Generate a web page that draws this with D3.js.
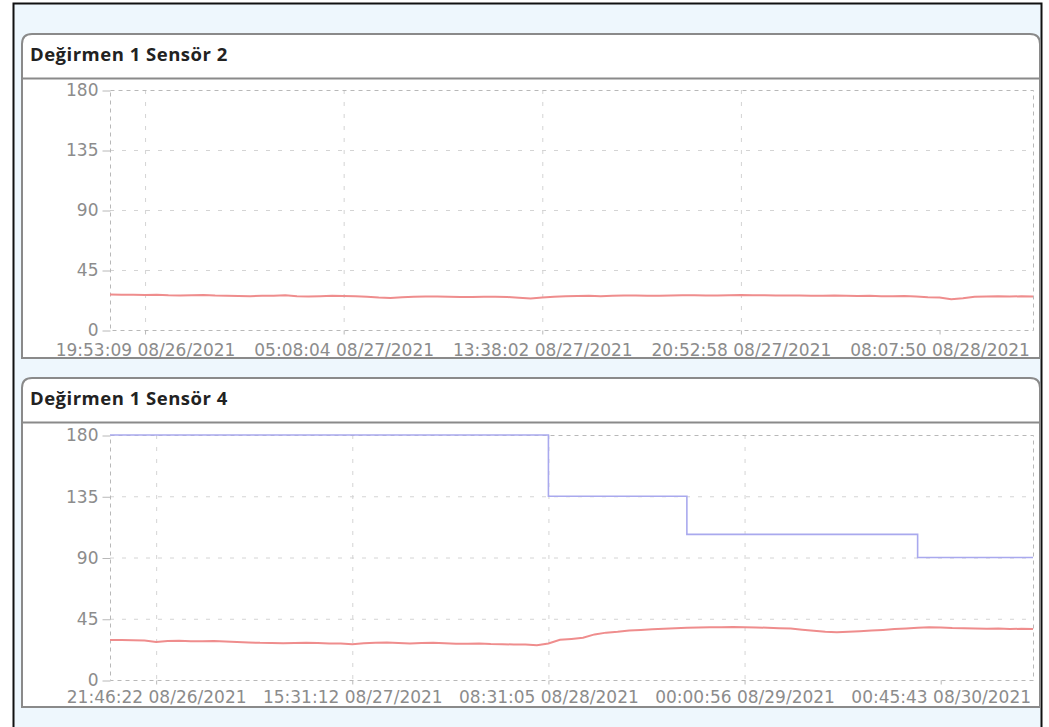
<!DOCTYPE html>
<html>
<head>
<meta charset="utf-8">
<script src="https://cdn.jsdelivr.net/npm/d3@7/dist/d3.min.js"></script>
<style>
    body { margin: 0; background: #fff; }
    svg text { font-family: "DejaVu Sans", sans-serif; }
</style>
</head>
<body>
<div id="chart"></div>
<script>
// y axis ticks (same for both sensors)
var yTicks = [0, 45, 90, 135, 180];

// Sensor 2
var sensor2Title = "Değirmen 1 Sensör 2";
var sensor2Labels = ["19:53:09 08/26/2021", "05:08:04 08/27/2021", "13:38:02 08/27/2021", "20:52:58 08/27/2021", "08:07:50 08/28/2021"];
var sensor2LabelIdx = [3, 20, 37, 54, 71];
var sensor2Red = [
    26.6, 26.5, 26.4, 26.3, 26.5, 26.1, 25.9, 26.0, 26.2, 25.8,
    25.6, 25.5, 25.4, 25.6, 25.7, 26.0, 25.4, 25.2, 25.4, 25.6,
    25.5, 25.3, 25.0, 24.3, 24.0, 24.6, 24.9, 25.1, 25.2, 25.0,
    24.8, 24.7, 24.9, 25.0, 24.7, 24.1, 23.6, 24.3, 25.0, 25.3,
    25.5, 25.6, 25.4, 25.7, 25.9, 25.8, 25.6, 25.7, 25.9, 26.0,
    26.1, 25.9, 25.8, 26.0, 26.2, 26.1, 26.0, 25.9, 25.8, 25.9,
    25.7, 25.6, 25.8, 25.7, 25.5, 25.6, 25.4, 25.3, 25.5, 25.2,
    24.6, 24.3, 23.0, 23.9, 25.0, 25.2, 25.3, 25.1, 25.3, 25.2
];

// Sensor 4
var sensor4Title = "Değirmen 1 Sensör 4";
var sensor4Labels = ["21:46:22 08/26/2021", "15:31:12 08/27/2021", "08:31:05 08/28/2021", "00:00:56 08/29/2021", "00:45:43 08/30/2021"];
var sensor4LabelIdx = [4, 21, 38, 55, 72];
var sensor4Red = [
    29.4, 29.3, 29.2, 29.1, 28.0, 28.6, 28.9, 28.5, 28.4, 28.6,
    28.3, 28.0, 27.6, 27.3, 27.2, 27.0, 27.1, 27.3, 27.2, 26.8,
    26.9, 26.3, 27.0, 27.3, 27.5, 27.2, 26.9, 27.1, 27.3, 27.0,
    26.7, 26.6, 26.8, 26.4, 26.3, 26.1, 26.0, 25.6, 26.8, 29.5,
    30.2, 31.0, 33.5, 34.8, 35.4, 36.4, 36.8, 37.2, 37.7, 38.1,
    38.3, 38.5, 38.7, 38.8, 38.9, 38.8, 38.6, 38.4, 38.1, 37.8,
    37.0, 36.2, 35.5, 35.0, 35.4, 35.9, 36.3, 36.8, 37.4, 37.9,
    38.3, 38.8, 38.6, 38.2, 38.0, 37.8, 37.6, 37.9, 37.5, 37.6,
    37.4
];
var sensor4Blue = [
    180, 180, 180, 180, 180, 180, 180, 180, 180, 180,
    180, 180, 180, 180, 180, 180, 180, 180, 180, 180,
    180, 180, 180, 180, 180, 180, 180, 180, 180, 180,
    180, 180, 180, 180, 180, 180, 180, 180, 135, 135,
    135, 135, 135, 135, 135, 135, 135, 135, 135, 135,
    107, 107, 107, 107, 107, 107, 107, 107, 107, 107,
    107, 107, 107, 107, 107, 107, 107, 107, 107, 107,
    90, 90, 90, 90, 90, 90, 90, 90, 90, 90,
    90
];

var width = 1049, height = 727;

var svg = d3.select("#chart")
    .append("svg")
    .attr("width", width)
    .attr("height", height);

// outer frame
svg.append("rect")
    .attr("x", 13.5).attr("y", 3.5)
    .attr("width", 1028).attr("height", 740)
    .attr("fill", "#eef7fd")
    .attr("stroke", "#111")
    .attr("stroke-width", 2);

function SensorPanel(top, bottom, plotTop, plotBottom, labelGap, title, labels, labelIdx, series) {
    var left = 22, right = 1040, r = 10;
    var g = svg.append("g");

    // panel box with rounded top corners
    g.append("path")
        .attr("d", "M" + left + "," + bottom + "V" + (top + r) + "Q" + left + "," + top + " " + (left + r) + "," + top +
            "H" + (right - r) + "Q" + right + "," + top + " " + right + "," + (top + r) + "V" + bottom + "Z")
        .attr("fill", "#fff")
        .attr("stroke", "#8a8a8a")
        .attr("stroke-width", 2);

    g.append("line")
        .attr("x1", left).attr("x2", right)
        .attr("y1", top + 44.5).attr("y2", top + 44.5)
        .attr("stroke", "#8a8a8a")
        .attr("stroke-width", 2);

    g.append("text")
        .attr("x", 30).attr("y", top + 27)
        .style("font-family", "'Open Sans', sans-serif")
        .style("font-weight", 700)
        .style("font-size", "18.5px")
        .style("letter-spacing", "0.5px")
        .attr("fill", "#222")
        .text(title);

    //set Scales
    var n = series[0].values.length;
    var xScale = d3.scaleLinear().domain([0, n - 1]).range([110, 1033]);
    var yScale = d3.scaleLinear().domain([0, 180]).range([plotBottom, plotTop]);

    // grid
    g.selectAll(".hgrid")
        .data(yTicks.slice(1, -1))
        .enter().append("line")
        .attr("x1", 110).attr("x2", 1033)
        .attr("y1", function (d) { return yScale(d) + 0.5; })
        .attr("y2", function (d) { return yScale(d) + 0.5; })
        .attr("stroke", "#d4d4d4")
        .attr("stroke-dasharray", "4,8");

    g.selectAll(".vgrid")
        .data(labelIdx.slice(0, -1))
        .enter().append("line")
        .attr("x1", function (d) { return xScale(d) + 0.5; })
        .attr("x2", function (d) { return xScale(d) + 0.5; })
        .attr("y1", plotTop).attr("y2", plotBottom)
        .attr("stroke", "#d4d4d4")
        .attr("stroke-dasharray", "4,8");

    // dashed plot frame
    g.append("rect")
        .attr("x", 110.5).attr("y", plotTop + 0.5)
        .attr("width", 923).attr("height", plotBottom - plotTop)
        .attr("fill", "none")
        .attr("stroke", "#b8b8b8")
        .attr("stroke-dasharray", "4,4");

    //axis:
    var yAxis = d3.axisLeft(yScale).tickValues(yTicks).tickSize(8).tickPadding(4);
    var xAxis = d3.axisBottom(xScale).tickValues(labelIdx).tickSize(4).tickPadding(labelGap)
        .tickFormat(function (d, i) { return labels[i]; });

    var ya = g.append("g")
        .attr("transform", "translate(110.5,0.5)")
        .call(yAxis);
    var xa = g.append("g")
        .attr("transform", "translate(0," + (plotBottom + 0.5) + ")")
        .call(xAxis);

    //TODO: move styling in css
    [ya, xa].forEach(function (a) {
        a.select(".domain").remove();
        a.selectAll(".tick line").attr("stroke", "#b8b8b8");
        a.selectAll(".tick text")
            .attr("fill", "#8c8c8c")
            .style("font-family", "'DejaVu Sans', sans-serif")
            .style("font-size", "17px");
    });

    // series lines
    series.forEach(function (s) {
        var line = d3.line()
            .x(function (d, i) { return xScale(i); })
            .y(function (d) { return yScale(d); })
            .curve(s.step ? d3.curveStepAfter : d3.curveLinear);
        g.append("path")
            .datum(s.values)
            .attr("d", line)
            .attr("fill", "none")
            .attr("stroke", s.color)
            .attr("stroke-width", s.width);
    });
}

SensorPanel(34, 358, 90, 330, 9, sensor2Title, sensor2Labels, sensor2LabelIdx, [
    {values: sensor2Red, color: "#ef8d8d", width: 2}
]);

SensorPanel(378, 707, 435, 680, 6, sensor4Title, sensor4Labels, sensor4LabelIdx, [
    {values: sensor4Blue, color: "#a9a9ee", width: 1.6, step: true},
    {values: sensor4Red, color: "#ef8d8d", width: 2}
]);
</script>
</body>
</html>
